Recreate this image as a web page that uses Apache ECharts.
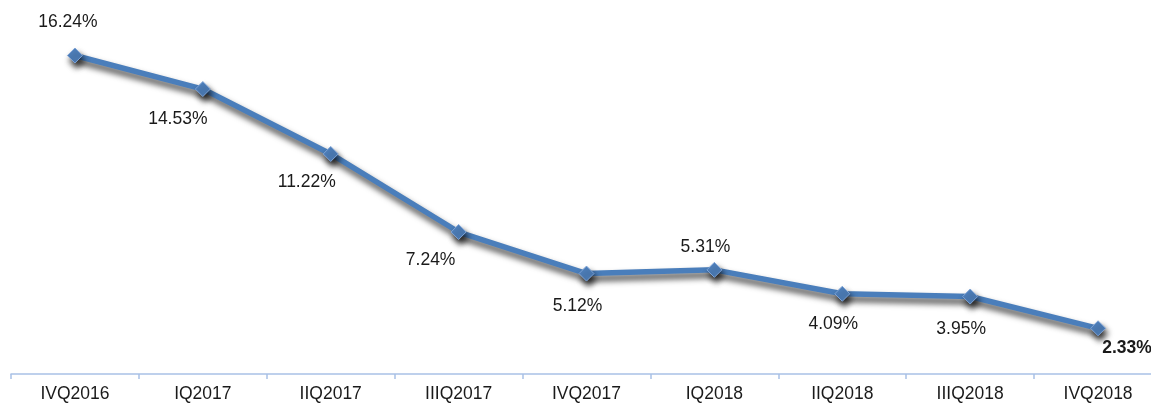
<!DOCTYPE html>
<html>
<head>
<meta charset="utf-8">
<script src="https://cdn.jsdelivr.net/npm/echarts@6/dist/echarts.min.js"></script>
<style>
  html, body { margin: 0; padding: 0; background: #fff; overflow: hidden; }
  /* the original chart is cut off at the right edge, so the canvas runs a bit past the window */
  #chart { width: 1162px; height: 404px; }
</style>
</head>
<body>
<div id="chart"></div>
<script>
const quarters = ['IVQ2016', 'IQ2017', 'IIQ2017', 'IIIQ2017', 'IVQ2017', 'IQ2018', 'IIQ2018', 'IIIQ2018', 'IVQ2018'];
const rates = [16.24, 14.53, 11.22, 7.24, 5.12, 5.31, 4.09, 3.95, 2.33];

// label placement per point (style only)
const labelOffsets = [[-7, -33], [-25, 30], [-24, 28], [-28, 28], [-9, 33], [-9, -23], [-9, 30], [-9, 33], [29, 20]];

const chart = echarts.init(document.getElementById('chart'));

const seriesData = rates.map((v, i) => ({
  value: v,
  label: {
    offset: labelOffsets[i],
    fontWeight: i === rates.length - 1 ? 'bold' : 'normal'
  }
}));

chart.setOption({
  animation: false,
  grid: { left: 11, top: 21, right: 0, bottom: 30 },
  xAxis: {
    type: 'category',
    data: quarters,
    boundaryGap: true,
    axisLine: { lineStyle: { color: '#a9c1e6', width: 1.5 } },
    axisTick: { show: true, length: 5, lineStyle: { color: '#a9c1e6', width: 1.5 } },
    axisLabel: { color: '#1a1a1a', fontSize: 17.5, fontFamily: 'Liberation Sans, Arial', margin: 11 }
  },
  yAxis: {
    type: 'value',
    min: 0,
    max: 18,
    show: false
  },
  series: [{
    type: 'line',
    data: seriesData,
    symbol: 'diamond',
    symbolSize: 15,
    lineStyle: {
      color: '#4a7ebb',
      width: 5.5,
      shadowColor: 'rgba(0,0,0,0.75)',
      shadowBlur: 6,
      shadowOffsetX: 2,
      shadowOffsetY: 5
    },
    itemStyle: {
      color: '#4f81bd',
      borderColor: '#7ea3d6',
      borderWidth: 1,
      shadowColor: 'rgba(0,0,0,0.8)',
      shadowBlur: 6,
      shadowOffsetX: 2,
      shadowOffsetY: 5
    },
    label: {
      show: true,
      position: 'inside',
      formatter: p => p.value.toFixed(2) + '%',
      color: '#1a1a1a',
      fontSize: 17.5,
      fontFamily: 'Liberation Sans, Arial'
    }
  }]
});
</script>
</body>
</html>
